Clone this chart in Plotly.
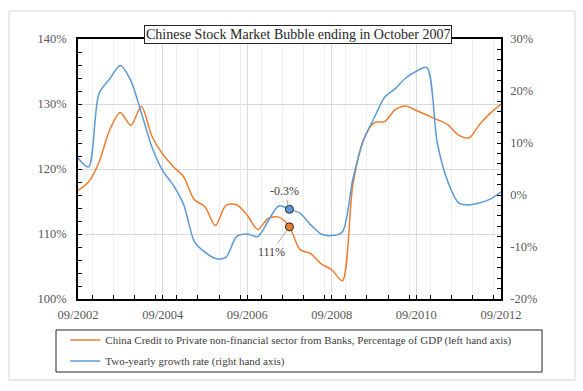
import pandas as pd
import plotly.graph_objects as go

# quarterly observations, 09/2002 .. 09/2012
dates = pd.date_range("2002-09-01", periods=41, freq="3MS")

credit_gdp = [116.7, 118.0, 121.0, 126.0, 128.7, 126.7, 129.6, 125.0, 122.3, 120.4,
              118.8, 115.3, 114.2, 111.3, 114.4, 114.5, 112.9, 110.7, 112.4, 112.6,
              111.1, 107.6, 107.0, 105.4, 104.5, 102.8, 117.5, 124.5, 127.1, 127.3,
              129.1, 129.7, 129.0, 128.3, 127.6, 126.8, 125.2, 124.8, 126.9, 128.6,
              130.0]

growth_2y = [7.1, 5.4, 19.5, 22.3, 24.9, 22.0, 15.8, 9.2, 4.7, 1.9,
             -1.8, -8.9, -11.0, -12.2, -12.0, -8.0, -7.5, -8.0, -5.0, -2.1,
             -2.75, -3.5, -5.7, -7.5, -7.8, -7.1, 3.0, 10.5, 14.8, 18.8,
             20.4, 22.5, 23.8, 24.5, 10.0, 2.5, -1.5, -1.9, -1.5, -0.8,
             0.6]

# highlighted point (end of the bubble)
peak_date = "2007-09-01"
peak_credit = 111.1
peak_growth = -2.75
peak_credit_label = "111%"
peak_growth_label = "-0.3%"

right_ticks = [-20, -10, 0, 10, 20, 30]
right_ticktext = ["-20%", "-10%", "0%", "10%", "20%", "30%"]

ORANGE = "#ED7D31"
BLUE = "#5B9BD5"
FONT = "Liberation Serif, Times New Roman, serif"

fig = go.Figure()

fig.add_trace(go.Scatter(
    x=dates, y=credit_gdp, mode="lines", line=dict(color=ORANGE, width=1.5, shape="spline", smoothing=0.8),
    name="China Credit to Private non-financial sector from Banks, Percentage of GDP (left hand axis)",
    legendgroup="credit",
))
fig.add_trace(go.Scatter(
    x=dates, y=growth_2y, mode="lines", yaxis="y2",
    line=dict(color=BLUE, width=1.5, shape="spline", smoothing=0.8),
    name="Two-yearly growth rate (right hand axis)",
    legendgroup="growth",
))
fig.add_trace(go.Scatter(
    x=[peak_date], y=[peak_credit], mode="markers", showlegend=False,
    marker=dict(color=ORANGE, size=8, line=dict(color="#262626", width=1)),
))
fig.add_trace(go.Scatter(
    x=[peak_date], y=[peak_growth], mode="markers", yaxis="y2", showlegend=False,
    marker=dict(color=BLUE, size=8, line=dict(color="#262626", width=1)),
))

fig.add_annotation(x=peak_date, y=peak_growth, yref="y2", text=peak_growth_label,
                   showarrow=True, arrowhead=0, arrowcolor="#a6a6a6", arrowwidth=1,
                   ax=-5, ay=-18, standoff=4, font=dict(family=FONT, size=12, color="#404040"))
fig.add_annotation(x=peak_date, y=peak_credit, yref="y", text=peak_credit_label,
                   showarrow=True, arrowhead=0, arrowcolor="#a6a6a6", arrowwidth=1,
                   ax=-18, ay=25, standoff=4, font=dict(family=FONT, size=12, color="#404040"))

# title box
fig.add_annotation(x=0.519, y=1.0154, xref="paper", yref="paper", xanchor="center", yanchor="middle",
                   text="Chinese Stock Market Bubble ending in October 2007", showarrow=False,
                   font=dict(family=FONT, size=14, color="#262626"),
                   bgcolor="white", bordercolor="#262626", borderwidth=1, borderpad=1)

# outer frame and legend box
fig.add_shape(type="rect", xref="paper", yref="paper", x0=-0.1631, x1=1.175, y0=-0.3115, y1=1.1077,
              line=dict(color="#d9d9d9", width=1), layer="below")
fig.add_shape(type="rect", xref="paper", yref="paper", x0=-0.052, x1=1.097, y0=-0.2808, y1=-0.1192,
              line=dict(color="#262626", width=1))

fig.update_layout(
    width=583, height=391,
    margin=dict(l=78, r=82, t=39, b=92, autoexpand=False),
    paper_bgcolor="white", plot_bgcolor="white",
    font=dict(family=FONT, size=12, color="#595959"),
    showlegend=True,
    legend=dict(x=-0.03, y=-0.102, xanchor="left", yanchor="top",
                font=dict(family=FONT, size=11, color="#404040"),
                bgcolor="rgba(0,0,0,0)", borderwidth=0, tracegroupgap=2),
    xaxis=dict(
        type="date", range=["2002-09-01", "2012-09-01"],
        tick0="2002-09-01", dtick="M24", tickformat="%m/%Y",
        ticks="inside", ticklen=4, tickcolor="black", ticklabelstandoff=3,
        showline=True, linecolor="black", linewidth=1.5, mirror=True,
        showgrid=True, gridcolor="#d9d9d9",
        minor=dict(dtick="M6", ticks="inside", ticklen=4, tickcolor="black",
                   showgrid=True, gridcolor="#efefef"),
        tickfont=dict(family=FONT, size=12.5, color="#595959"),
    ),
    yaxis=dict(
        range=[100, 140], dtick=10, ticksuffix="%",
        ticks="inside", ticklen=4, tickcolor="black", ticklabelstandoff=7,
        showline=True, linecolor="black", linewidth=1.5,
        showgrid=True, gridcolor="#d9d9d9", zeroline=False,
        minor=dict(dtick=2, ticks="inside", ticklen=4, tickcolor="black"),
        tickfont=dict(family=FONT, size=12.5, color="#595959"),
    ),
    yaxis2=dict(
        overlaying="y", side="right", range=[-20, 30],
        tickmode="array", tickvals=right_ticks, ticktext=right_ticktext,
        ticks="inside", ticklen=4, tickcolor="black", ticklabelstandoff=5,
        showline=True, linecolor="black", linewidth=1.5,
        showgrid=False, zeroline=False,
        minor=dict(dtick=2, tick0=0, ticks="inside", ticklen=4, tickcolor="black"),
        tickfont=dict(family=FONT, size=12.5, color="#595959"),
    ),
)

# drop the browser's default body margin so the figure sits at the page origin
fig.write_html("out.html", config={"displayModeBar": False},
               post_script="document.body.style.margin='0';")
